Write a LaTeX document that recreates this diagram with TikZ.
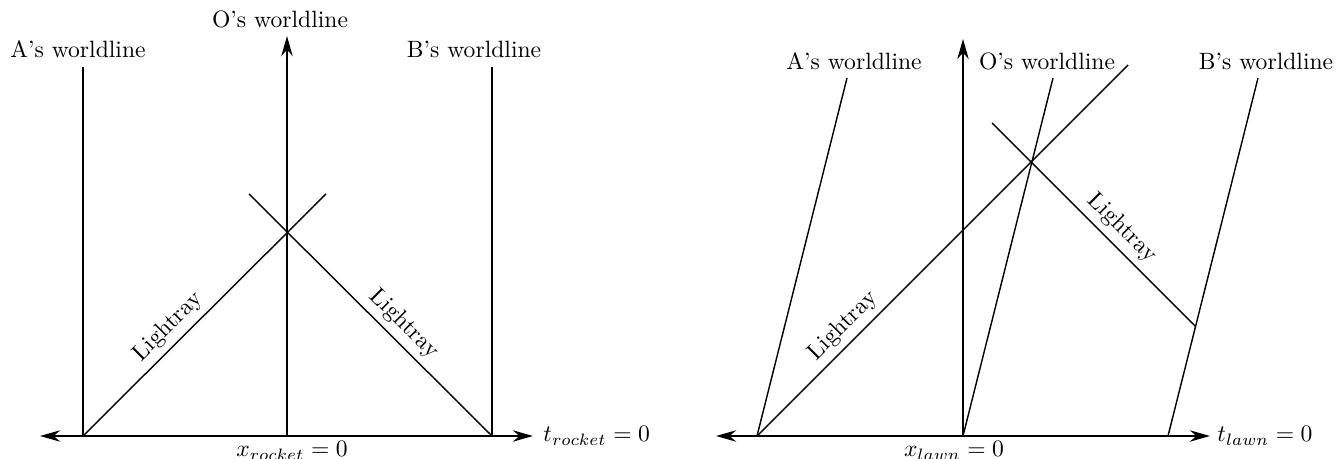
\documentclass[tikz,border=0pt]{standalone}
\usetikzlibrary{arrows.meta}
\begin{document}
\begin{tikzpicture}[x=0.4237pt,y=-0.4237pt,
  worldln/.style={line width=0.6pt},
  axisup/.style={line width=1.1pt,-{Stealth[length=8.5pt,width=4.8pt]}},
  axisboth/.style={line width=1.1pt,{Stealth[length=8.5pt,width=4.8pt]}-{Stealth[length=8.5pt,width=4.8pt]}},
  lbl/.style={inner sep=0pt}]
\useasboundingbox (0,0) rectangle (1338,459);
% ---------- left diagram (rocket frame) ----------
\coordinate (LaxW) at (40,436);
\coordinate (LaxE) at (533,436);
\coordinate (LO) at (287,436);
\coordinate (LOtop) at (287,36);
\coordinate (LA) at (83,436);
\coordinate (LAtop) at (83,67);
\coordinate (LB) at (492,436);
\coordinate (LBtop) at (492,67);
\coordinate (LR1) at (326,194);
\coordinate (LR2) at (249,194);
\draw[worldln] (LA) -- (LAtop);
\draw[worldln] (LB) -- (LBtop);
\draw[worldln] (LA) -- (LR1);
\draw[worldln] (LB) -- (LR2);
\draw[axisup] (LO) -- (LOtop);
\draw[axisboth] (LaxW) -- (LaxE);
\node[lbl,anchor=base] (lAlab) at (78,58) {A's worldline};
\node[lbl,anchor=base] (lOlab) at (280,28) {O's worldline};
\node[lbl,anchor=base] (lBlab) at (474,58) {B's worldline};
\node[lbl,anchor=base] (lxlab) at (292,457) {$x_{rocket}=0$};
\node[lbl,anchor=west] (ltlab) at (543,436) {$t_{rocket}=0$};
\node[lbl,rotate=45] (lL1) at (168,327) {Lightray};
\node[lbl,rotate=-45] (lL2) at (404,324) {Lightray};
% ---------- right diagram (lawn frame) ----------
\coordinate (RaxW) at (716,436);
\coordinate (RaxE) at (1210,436);
\coordinate (RO) at (963,436);
\coordinate (ROtop) at (963,39);
\coordinate (RA) at (757,436);
\coordinate (RAtop) at (847,78);
\coordinate (ROwtop) at (1053,78);
\coordinate (RB) at (1168,436);
\coordinate (RBtop) at (1258,78);
\coordinate (RR1) at (1128,65);
\coordinate (RR2s) at (992,123);
\coordinate (RR2e) at (1195.6,326.6);
\draw[worldln] (RA) -- (RAtop);
\draw[worldln] (RO) -- (ROwtop);
\draw[worldln] (RB) -- (RBtop);
\draw[worldln] (RA) -- (RR1);
\draw[worldln] (RR2s) -- (RR2e);
\draw[axisup] (RO) -- (ROtop);
\draw[axisboth] (RaxW) -- (RaxE);
\node[lbl,anchor=base] (rAlab) at (854,70) {A's worldline};
\node[lbl,anchor=base] (rOlab) at (1047,70) {O's worldline};
\node[lbl,anchor=base] (rBlab) at (1266,70) {B's worldline};
\node[lbl,anchor=base] (rxlab) at (954,457) {$x_{lawn}=0$};
\node[lbl,anchor=west] (rtlab) at (1217,436) {$t_{lawn}=0$};
\node[lbl,rotate=45] (rL1) at (843,326) {Lightray};
\node[lbl,rotate=-45] (rL2) at (1122,228) {Lightray};
\end{tikzpicture}
\end{document}
